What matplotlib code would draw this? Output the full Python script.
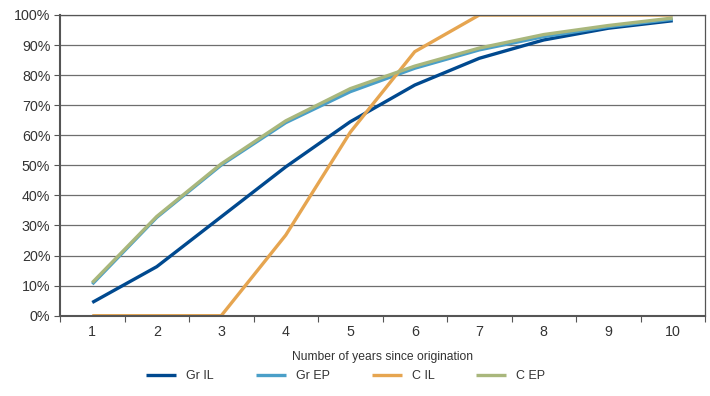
import matplotlib
matplotlib.use("Agg")
import matplotlib.pyplot as plt
from matplotlib.ticker import FuncFormatter, FixedLocator

plt.rcParams['font.family'] = ['Liberation Sans', 'DejaVu Sans']

years = [1, 2, 3, 4, 5, 6, 7, 8, 9, 10]
gr_il = [4.4, 16.3, 32.9, 49.5, 64.5, 76.7, 85.6, 91.7, 95.6, 98.1]
gr_ep = [10.5, 32.7, 50.1, 64.2, 74.5, 82.3, 88.4, 92.8, 96.1, 98.6]
c_il = [0, 0, 0, 26.8, 61.0, 87.8, 100, 100, 100, 100]
c_ep = [11.0, 33.0, 50.5, 64.8, 75.5, 83.0, 89.0, 93.5, 96.5, 99.0]
series = [("Gr IL", gr_il, "#00498f"), ("Gr EP", gr_ep, "#4a9fc8"),
          ("C IL", c_il, "#e6a550"), ("C EP", c_ep, "#a9b77c")]

fig = plt.figure(figsize=(7.10, 3.96), dpi=100)
ax = fig.add_axes([60/710, 1-315.7/396, 645/710, 300.7/396])

for name, vals, col in series:
    ax.plot(years, vals, color=col, lw=2.4, label=name, solid_capstyle='butt')

ax.set_xlim(0.5, 10.5)
ax.set_ylim(0, 100)
ax.set_yticks(range(0, 101, 10))
ax.yaxis.set_major_formatter(FuncFormatter(lambda v, p: f"{int(v)}%"))
ax.set_xticks(years)
ax.xaxis.set_minor_locator(FixedLocator([y + 0.5 for y in range(0, 11)]))
ax.tick_params(axis='x', which='major', length=0, pad=7, labelsize=10.3, colors='#333333')
ax.tick_params(axis='x', which='minor', length=4, width=0.8, color='#555555')
ax.tick_params(axis='y', length=4, width=0.8, color='#555555', labelsize=10.3, labelcolor='#333333', pad=3)
ax.grid(axis='y', color='#6e6e6e', lw=0.9)
ax.set_axisbelow(True)
for s in ax.spines.values():
    s.set_color('#555555')
    s.set_linewidth(0.9)
ax.spines['left'].set_linewidth(1.5)
ax.spines['bottom'].set_linewidth(1.5)

ax.set_xlabel("Number of years since origination", fontsize=8.7, color='#333333', labelpad=8)

leg = fig.legend(loc='center', bbox_to_anchor=(346/710, 1-376/396), ncol=4, frameon=False,
                 fontsize=9, handlelength=2.4, handletextpad=0.8, columnspacing=3.35)
for t in leg.get_texts():
    t.set_color('#333333')

fig.savefig("out.png", dpi=100)
